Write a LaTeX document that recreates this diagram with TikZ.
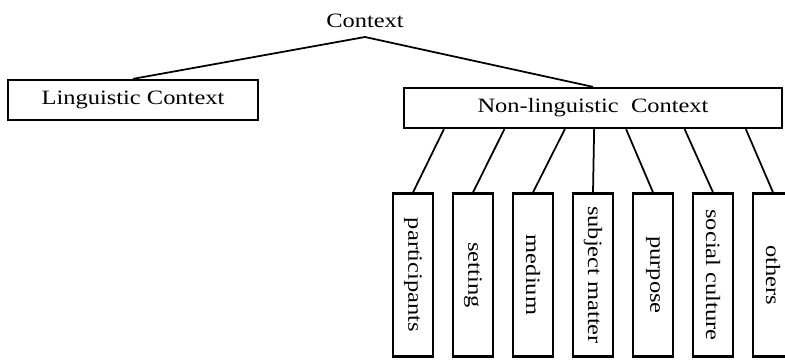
\documentclass[tikz,border=0pt]{standalone}
\usepackage{fontspec}
\setmainfont{Liberation Serif}[FakeStretch=1.2]
\usepackage{tikz}
\usetikzlibrary{calc}
\newcommand{\lab}{\fontsize{11.6}{13}\selectfont}
\tikzset{
  box/.style={draw, line width=1.3pt, inner sep=0pt, font=\lab},
  vbox/.style={box, rotate=-90, minimum width=3.26cm, minimum height=0.8cm},
  link/.style={line width=1pt},
  every node/.style={font=\lab}
}

\begin{document}
\begin{tikzpicture}[x=0.02cm, y=-0.02cm]
  \useasboundingbox (0,0) rectangle (785,359);
  \clip (0,0) rectangle (785,359);

  \node[anchor=south, inner ysep=5pt] (ctx) at (365,37) {Context};
  \node[box, minimum width=5cm, minimum height=0.8cm] (ling) at (133,100) {Linguistic Context};
  \node[box, minimum width=7.56cm, minimum height=0.8cm] (nonling) at (593,108) {Non-linguistic\ \ Context};

  % the seven kinds of non-linguistic context
  \foreach \name/\txt [count=\i from 0] in {part/participants, sett/setting, med/medium,
      subj/subject matter, purp/purpose, soc/social culture, oth/others}
    \node[vbox] (\name) at (413+60*\i, 275) {\txt};

  \draw[link] (ling.north) -- (ctx.south) -- (nonling.north);
  \foreach \name/\f in {part/0.108, sett/0.267, med/0.426, subj/0.503,
      purp/0.587, soc/0.741, oth/0.902}
    \draw[link] ($(nonling.south west)!\f!(nonling.south east)$) -- (\name.west);
\end{tikzpicture}
\end{document}
